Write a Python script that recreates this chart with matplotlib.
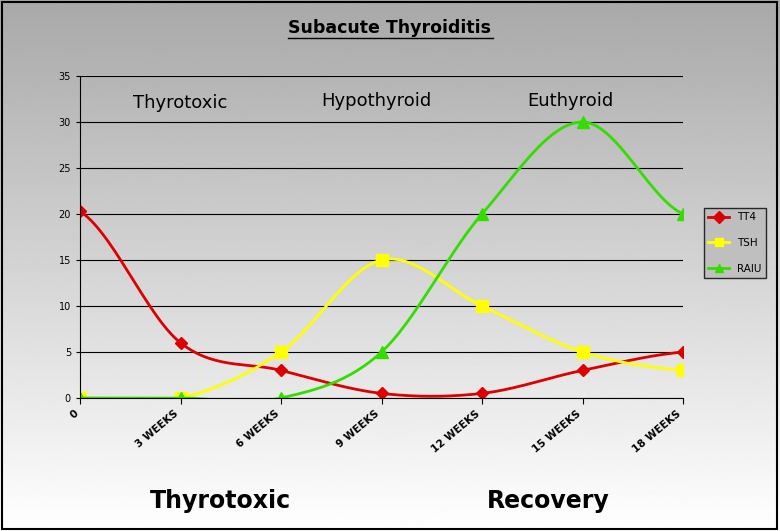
import numpy as np
import matplotlib
matplotlib.use("Agg")
import matplotlib.pyplot as plt

categories = ["0", "3 WEEKS", "6 WEEKS", "9 WEEKS", "12 WEEKS", "15 WEEKS", "18 WEEKS"]
tt4 = [20.3, 6, 3, 0.5, 0.5, 3, 5]
tsh = [0, 0, 5, 15, 10, 5, 3]
raiu = [0, 0, 0, 5, 20, 30, 20]
yticks = [0, 5, 10, 15, 20, 25, 30, 35]

def smooth(y, n=30, t=0.5):
    y = np.asarray(y, float)
    x = np.arange(len(y), dtype=float)
    xs, ys = [], []
    for i in range(len(y) - 1):
        p0 = y[max(i - 1, 0)]; p1 = y[i]; p2 = y[i + 1]; p3 = y[min(i + 2, len(y) - 1)]
        m1 = t * (p2 - p0) if i > 0 else (p2 - p1) * t
        m2 = t * (p3 - p1) if i + 2 < len(y) else (p2 - p1) * t
        s = np.linspace(0, 1, n)
        h00 = 2*s**3 - 3*s**2 + 1; h10 = s**3 - 2*s**2 + s
        h01 = -2*s**3 + 3*s**2; h11 = s**3 - s**2
        xs.append(x[i] + s); ys.append(h00*p1 + h10*m1 + h01*p2 + h11*m2)
    return np.concatenate(xs), np.concatenate(ys)

fig = plt.figure(figsize=(7.8, 5.31), dpi=100)
bg = fig.add_axes([0, 0, 1, 1], zorder=-10)
grad = np.linspace(0.66, 1.0, 256).reshape(-1, 1)
bg.imshow(grad, cmap="gray", vmin=0, vmax=1, aspect="auto", extent=[0, 1, 0, 1], origin="upper")
bg.set_xlim(0, 1); bg.set_ylim(0, 1); bg.axis("off")
bg.add_patch(plt.Rectangle((0.002, 0.003), 0.994, 0.994, fill=False, ec="black", lw=1.5))

ax = fig.add_axes([80/780, 1 - 398/531, 603/780, 322/531])
ax.patch.set_alpha(0)
x = np.arange(len(categories))
for vals, col, mk, lab in [(tt4, "#dd0000", "D", "TT4"), (tsh, "#ffff00", "s", "TSH"), (raiu, "#33dd00", "^", "RAIU")]:
    sx, sy = smooth(vals)
    ax.plot(sx, sy, color=col, lw=2)
    ax.plot(x, vals, ls="none", marker=mk, color=col, ms=8 if mk != "D" else 6)
    ax.plot([], [], color=col, marker=mk, ms=6, lw=2, label=lab)
ax.set_xlim(0, 6); ax.set_ylim(0, 35)
ax.set_yticks(yticks)
ax.tick_params(axis="y", labelsize=7, length=3)
ax.set_xticks(x)
ax.set_xticklabels(categories, rotation=40, ha="right", fontsize=7.5, fontweight="bold")
ax.tick_params(axis="x", length=4)
ax.grid(axis="y", color="black", lw=0.8)
for s in ["top", "right"]:
    ax.spines[s].set_visible(False)
ax.text(0.53, 31.5, "Thyrotoxic", fontsize=13)
ax.text(2.4, 31.7, "Hypothyroid", fontsize=13)
ax.text(4.45, 31.7, "Euthyroid", fontsize=13)
fig.text(390/780, 1 - 28/531, "Subacute Thyroiditis", ha="center", va="center", fontsize=12.5, fontweight="bold")
fig.lines.append(plt.Line2D([288/780, 493/780], [1 - 38/531, 1 - 38/531], color="black", lw=1, transform=fig.transFigure))
fig.text(220/780, 1 - 501/531, "Thyrotoxic", ha="center", va="center", fontsize=17, fontweight="bold")
fig.text(548/780, 1 - 501/531, "Recovery", ha="center", va="center", fontsize=17, fontweight="bold")
leg = fig.legend(loc="center", bbox_to_anchor=(735/780, 1 - 243/531), fontsize=7.5, frameon=True,
                 fancybox=False, edgecolor="black", labelspacing=1.5, handlelength=2.0)
leg.get_frame().set_facecolor("#bbbbbb")
fig.savefig("out.png", dpi=100)
